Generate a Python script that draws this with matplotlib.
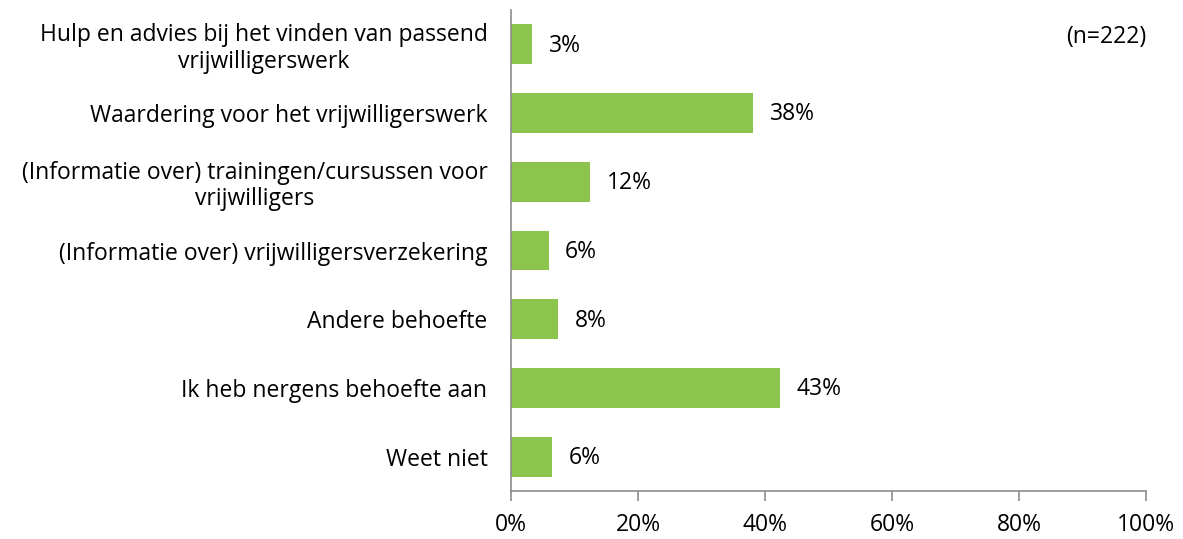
import matplotlib
matplotlib.use('Agg')
import matplotlib.pyplot as plt
from matplotlib.ticker import PercentFormatter

# Data
categories = [
    "Hulp en advies bij het vinden van passend\nvrijwilligerswerk",
    "Waardering voor het vrijwilligerswerk",
    "(Informatie over) trainingen/cursussen voor\nvrijwilligers",
    "(Informatie over) vrijwilligersverzekering",
    "Andere behoefte",
    "Ik heb nergens behoefte aan",
    "Weet niet",
]
values = [3.3, 38.1, 12.4, 5.9, 7.4, 42.4, 6.4]
labels = ["3%", "38%", "12%", "6%", "8%", "43%", "6%"]
n_text = "(n=222)"

plt.rcParams['font.family'] = ['Open Sans', 'DejaVu Sans']
FS = 16.5

fig = plt.figure(figsize=(11.83, 5.39), dpi=100)
ax = fig.add_axes([0.432, 0.089, 0.5367, 0.8925])

ypos = list(range(len(categories)))
bars = ax.barh(ypos, values, height=0.58, color='#8DC44E')

# Value labels next to the bars
for bar, lab in zip(bars, labels):
    ax.annotate(lab, (bar.get_width(), bar.get_y() + bar.get_height() / 2),
                xytext=(12, -1), textcoords='offset points',
                va='center', ha='left', fontsize=FS, color='black')

ax.set_yticks(ypos)
ax.set_yticklabels(categories, fontsize=FS, linespacing=1.15)
for t in ax.get_yticklabels():
    t.set_multialignment('center')
ax.set_ylim(len(categories) - 0.5, -0.5)
ax.set_xlim(0, 100)
ax.set_xticks([0, 20, 40, 60, 80, 100])
ax.xaxis.set_major_formatter(PercentFormatter(decimals=0))

for side in ['top', 'right']:
    ax.spines[side].set_visible(False)
for side in ['left', 'bottom']:
    ax.spines[side].set_color('#8c8c8c')
    ax.spines[side].set_linewidth(1.2)

ax.tick_params(axis='y', length=0, pad=17)
ax.tick_params(axis='x', length=7, width=1.2, color='#8c8c8c',
               labelsize=FS, pad=9)

ax.text(1.0, 0.944, n_text, transform=ax.transAxes, ha='right', va='center',
        fontsize=FS)

fig.savefig('out.png', dpi=100)
